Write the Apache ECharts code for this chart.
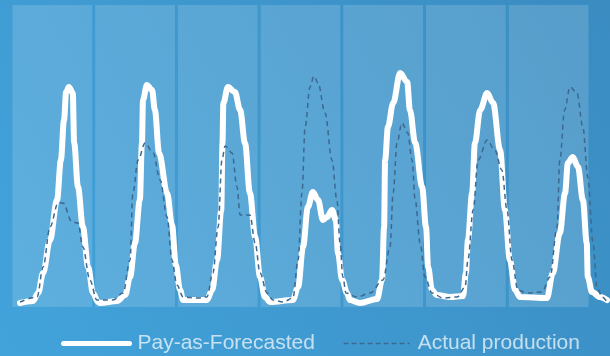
<!DOCTYPE html>
<html>
<head>
<meta charset="utf-8">
<script src="https://cdn.jsdelivr.net/npm/echarts@6/dist/echarts.min.js"></script>
<style>
html,body{margin:0;padding:0;}
#chart{width:610px;height:356px;}
</style>
</head>
<body>
<div id="chart"></div>
<script>
// Panels: one shaded column per day
const days = ['Day 1', 'Day 2', 'Day 3', 'Day 4', 'Day 5', 'Day 6', 'Day 7'];
const panelValues = [1, 1, 1, 1, 1, 1, 1];

// Pay-as-Forecasted (hour of week, relative output)
const forecastHours = [0, 3.7, 5.2, 6.6, 8.6, 10.6, 11.7, 12.6, 13.2, 14.0, 15.1, 15.5, 16.6, 18.0, 19.5, 20.9, 22.3,
  22.9, 27.8, 30.1, 31.5, 32.9, 34.3, 34.9, 35.2, 36.3, 37.8, 38.6, 39.8, 42.1, 43.5, 44.6, 45.8, 46.7,
  53.5, 55.0, 56.4, 57.6, 57.95, 58.2, 59.5, 61.5, 63.0, 64.4, 65.8, 67.3, 68.7, 70.1, 71.6,
  78.1, 79.6, 81.0, 82.4, 83.8, 85.3, 86.7, 87.9, 89.3, 90.4, 91.0, 92.2, 93.6, 94.4,
  97.3, 102.2, 103.6, 104.2, 104.5, 105.3, 106.8, 108.8, 110.8, 111.6, 113.1, 115.1, 116.2, 116.8, 117.9, 119.3,
  123.1, 126.8, 127.6, 128.2, 129.4, 130.2, 131.7, 133.7, 135.4, 137.4, 138.8, 140.2, 141.7, 143.1,
  150.8, 152.5, 154.5, 156.0, 156.8, 158.2, 159.7, 161.1, 162.2, 162.5, 163.7, 166.0, 168.0];
const forecastValues = [4, 6, 14, 34, 67, 107, 147, 187, 215, 220, 214, 164, 120, 80, 40, 14, 5,
  4, 6, 12, 30, 64, 107, 164, 207, 222, 217, 197, 154, 114, 82, 42, 17, 7,
  7, 17, 47, 97, 164, 204, 220, 215, 197, 164, 114, 70, 30, 10, 5,
  7, 20, 60, 100, 115, 107, 87, 90, 97, 87, 54, 27, 14, 7,
  4, 8, 27, 80, 147, 180, 204, 234, 225, 197, 164, 120, 80, 40, 17, 12,
  10, 11, 34, 67, 114, 164, 197, 214, 204, 157, 97, 47, 17, 10,
  9, 34, 74, 114, 144, 150, 140, 107, 64, 30, 15, 10, 7];

// Actual production
const actualHours = [0, 4.9, 6.6, 8.6, 10.9, 12.3, 14.9, 16.6, 18.0, 20.0, 22.0,
  26.6, 29.5, 31.5, 32.3, 33.8, 35.8, 38.1, 40.1, 42.1, 43.5, 44.9, 46.7,
  50.7, 53.5, 55.2, 56.7, 57.8, 58.7, 60.7, 62.1, 63.0, 65.8, 67.3, 68.7, 70.7, 72.4,
  75.3, 78.1, 79.6, 80.7, 81.6, 83.0, 84.1, 85.3, 87.3, 89.3, 90.7, 91.6, 92.4, 93.3,
  96.5, 100.2, 103.9, 105.9, 106.8, 107.9, 109.3, 111.0, 112.2, 113.1, 114.5, 115.9, 117.9,
  121.1, 125.1, 127.4, 128.2, 129.7, 131.1, 133.7, 135.9, 137.9, 139.4, 140.8, 142.5,
  145.1, 149.4, 151.7, 153.7, 154.5, 155.9, 157.4, 159.4, 161.1, 162.5, 164.0, 165.1, 166.6, 168.0];
const actualValues = [5, 10, 40, 80, 104, 104, 85, 84, 60, 27, 7,
  7, 14, 47, 114, 147, 164, 154, 127, 90, 47, 22, 10,
  9, 10, 34, 80, 147, 161, 154, 120, 92, 92, 64, 34, 14, 7,
  5, 9, 47, 114, 180, 220, 231, 224, 194, 147, 107, 64, 30, 14,
  10, 14, 27, 60, 114, 164, 184, 174, 147, 107, 64, 30, 14,
  9, 10, 20, 47, 97, 147, 167, 157, 137, 97, 47, 17,
  14, 15, 30, 80, 147, 197, 220, 214, 180, 130, 64, 20, 10, 5];

const zip = (xs, ys) => xs.map((x, i) => [x, ys[i]]);

const chart = echarts.init(document.getElementById('chart'), null, {renderer: 'canvas'});
chart.setOption({
  animation: false,
  backgroundColor: new echarts.graphic.LinearGradient(0, 1, 1, 0, [
    {offset: 0, color: '#42a3db'},
    {offset: 1, color: '#3a8cc1'}
  ]),
  grid: [
    {left: 11, right: 20, top: 5, bottom: 49},
    {left: 20, right: 3, top: 5, bottom: 49}
  ],
  xAxis: [
    {type: 'category', gridIndex: 0, data: days, show: false},
    {type: 'value', gridIndex: 1, min: 0, max: 168, show: false}
  ],
  yAxis: [
    {type: 'value', gridIndex: 0, min: 0, max: 1, show: false},
    {type: 'value', gridIndex: 1, min: 0, max: 302, show: false}
  ],
  legend: {
    left: 61,
    top: 333,
    padding: 0,
    itemWidth: 66,
    itemHeight: 4,
    itemGap: 28,
    textStyle: {
      color: 'rgba(255,255,255,0.7)', fontSize: 21,
      fontFamily: 'Liberation Sans, Arial, sans-serif',
      padding: [0, 0, 0, 3]
    },
    data: [
      {name: 'Pay-as-Forecasted', lineStyle: {width: 5}, itemStyle: {opacity: 0, color: 'rgba(0,0,0,0)', borderWidth: 0}},
      {name: 'Actual production', lineStyle: {width: 1.5, type: [5, 3]}, itemStyle: {opacity: 0, color: 'rgba(0,0,0,0)', borderWidth: 0}}
    ]
  },
  series: [
    {
      type: 'bar', xAxisIndex: 0, yAxisIndex: 0, data: panelValues,
      barCategoryGap: '3.6%', itemStyle: {color: 'rgba(255,255,255,0.15)'},
      silent: true, z: 1
    },
    {
      name: 'Actual production', type: 'line', xAxisIndex: 1, yAxisIndex: 1,
      data: zip(actualHours, actualValues), smooth: 0.35, smoothMonotone: 'x',
      showSymbol: false, symbol: 'none',
      lineStyle: {color: '#3d6890', width: 1.5, type: [5, 4]},
      itemStyle: {color: '#3d6890'}, z: 3
    },
    {
      name: 'Pay-as-Forecasted', type: 'line', xAxisIndex: 1, yAxisIndex: 1,
      data: zip(forecastHours, forecastValues), smooth: 0.35, smoothMonotone: 'x',
      showSymbol: false, symbol: 'none',
      lineStyle: {color: '#ffffff', width: 6, cap: 'round', join: 'round'},
      itemStyle: {color: '#ffffff'}, z: 2
    }
  ]
});
</script>
</body>
</html>
